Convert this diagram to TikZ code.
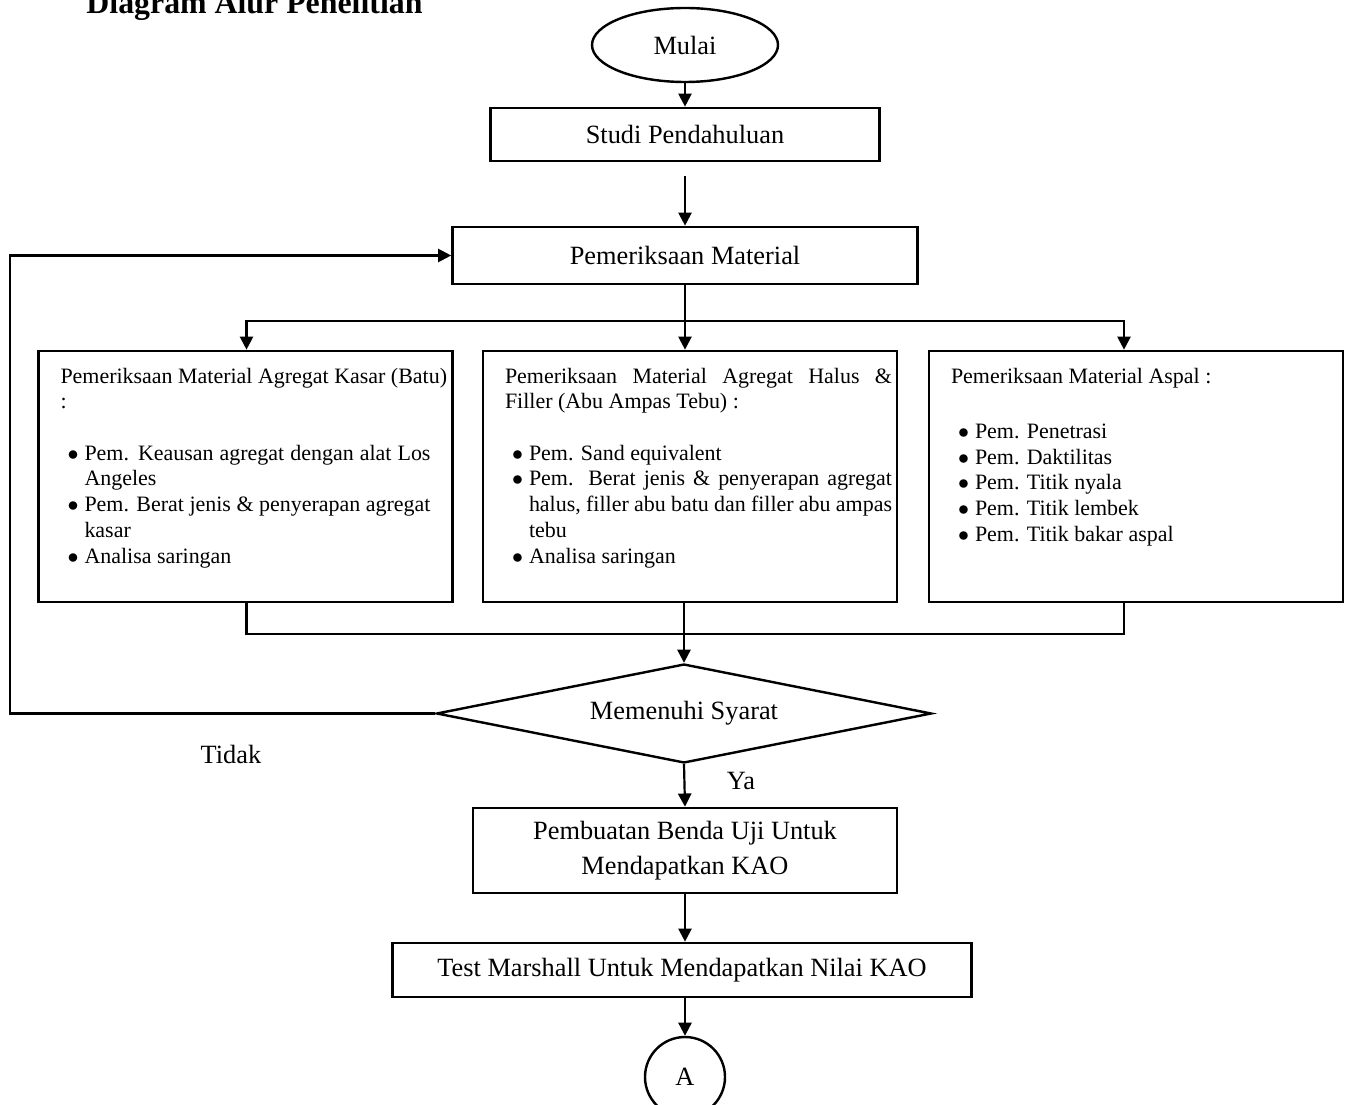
\documentclass[tikz,border=0pt]{standalone}
\usepackage{fontspec}
\setmainfont{Liberation Serif}
\usepackage{enumitem}
\usetikzlibrary{positioning,shapes.geometric,arrows.meta,calc}
\newlength{\px}
\setlength{\px}{0.016cm}
\setlist[itemize]{nosep,leftmargin=24\px,labelsep=6\px,label=$\bullet$}
% isi kotak pemeriksaan: #1 = lebar teks (px), #2 = isi
\newcommand{\isibox}[2]{%
  \begin{minipage}[t][251\px][t]{414\px}%
  \vspace*{17\px}\hspace*{22\px}%
  \begin{minipage}[t]{#1\px}%
  \fontsize{10}{11.7}\selectfont\hyphenpenalty=10000\exhyphenpenalty=10000
  #2%
  \end{minipage}%
  \end{minipage}}

\begin{document}
\begin{tikzpicture}[x=0.016cm,y=-0.016cm,font=\fontsize{12}{14}\selectfont,
   terminal/.style={ellipse,draw,line width=1.1pt,minimum width=186\px,minimum height=74\px,inner sep=0pt},
   proses/.style={rectangle,draw,line width=1.2pt,inner sep=0pt,align=center},
   daftar/.style={rectangle,draw,line width=1.2pt,inner sep=0pt},
   keputusan/.style={diamond,draw,line width=1.1pt,aspect=5,inner sep=0pt,minimum width=495\px,minimum height=99\px},
   konektor/.style={circle,draw,line width=1.1pt,minimum size=80\px,inner sep=0pt},
   panah/.style={line width=1pt,-{Triangle[length=6pt,width=6pt]}},
   garis/.style={line width=1pt}]
\useasboundingbox (0,0) rectangle (1347,1105);
%% ---- judul ----
\node[anchor=base west,inner sep=0pt,font=\bfseries\fontsize{14.5}{16}\selectfont] (judul) at (86,14) {Diagram Alur Penelitian};
%% ---- alur utama ----
\node[terminal] (mulai) at (685,45) {Mulai};
\node[proses,minimum width=389\px,minimum height=53\px] (studi) at (685,134.5) {Studi Pendahuluan};
\node[proses,minimum width=465\px,minimum height=57\px] (periksa) at (685,255.5) {Pemeriksaan Material};
%% ---- tiga kotak pemeriksaan ----
\node[daftar] (kasar) at (245.5,476.5) {\isibox{370}{%
  \makebox[\linewidth][l]{Pemeriksaan Material Agregat Kasar (Batu)}\par
  :\par\vspace{11.7pt}
  \begin{itemize}
  \item Pem. Keausan agregat dengan alat Los Angeles
  \item Pem. Berat jenis \& penyerapan agregat kasar
  \item Analisa saringan
  \end{itemize}}};
\node[daftar] (halus) at (690,476.5) {\isibox{387}{%
  Pemeriksaan Material Agregat Halus \& Filler (Abu Ampas Tebu) :\par\vspace{11.7pt}
  \begin{itemize}
  \item Pem. Sand equivalent
  \item Pem. Berat jenis \& penyerapan agregat halus, filler abu batu dan filler abu ampas tebu
  \item Analisa saringan
  \end{itemize}}};
\node[daftar] (aspal) at (1136,476.5) {\isibox{370}{%
  Pemeriksaan Material Aspal :\par\vspace{13.5pt}
  \begin{itemize}
  \item Pem. Penetrasi
  \item Pem. Daktilitas
  \item Pem. Titik nyala
  \item Pem. Titik lembek
  \item Pem. Titik bakar aspal
  \end{itemize}}};
%% ---- keputusan dan sesudahnya ----
\node[keputusan] (syarat) at (684,713.5) {Memenuhi Syarat};
\node (tidak) at (231,754) {Tidak};
\node (ya) at (741,781) {Ya};
\node[proses,minimum width=424\px,minimum height=85\px,font=\fontsize{12}{16}\selectfont] (buat) at (685,850.5) {Pembuatan Benda Uji Untuk\\Mendapatkan KAO};
\node[proses,minimum width=579\px,minimum height=54\px] (marshall) at (682,970) {Test Marshall Untuk Mendapatkan Nilai KAO};
\node[konektor] (konA) at (685,1077) {A};
%% ---- penghubung ----
\coordinate (s1) at (685,176);
\coordinate (cabang) at (685,321);
\coordinate (gabung) at (685,634);
\draw[panah] (mulai) -- (studi);
\draw[panah] (s1) -- (periksa);
\draw[panah] (periksa.south) -- (periksa.south |- halus.north);
\draw[panah] (cabang) -| ($(kasar.north)+(1,0)$);
\draw[panah] (cabang) -| ($(aspal.north)+(-12,0)$);
\draw[garis] ($(kasar.south)+(1,0)$) |- (gabung) -| ($(aspal.south)+(-12,0)$);
\draw[panah] (syarat.north |- halus.south) -- (syarat.north);
\draw[panah] (syarat.west) -- ++(-425,0) |- (periksa.west); % Tidak
\draw[panah] (syarat.south) -- (buat.north);                % Ya
\draw[panah] (buat.south) -- (buat.south |- marshall.north);
\draw[panah] (marshall.south -| konA.north) -- (konA.north);
\end{tikzpicture}
\end{document}
